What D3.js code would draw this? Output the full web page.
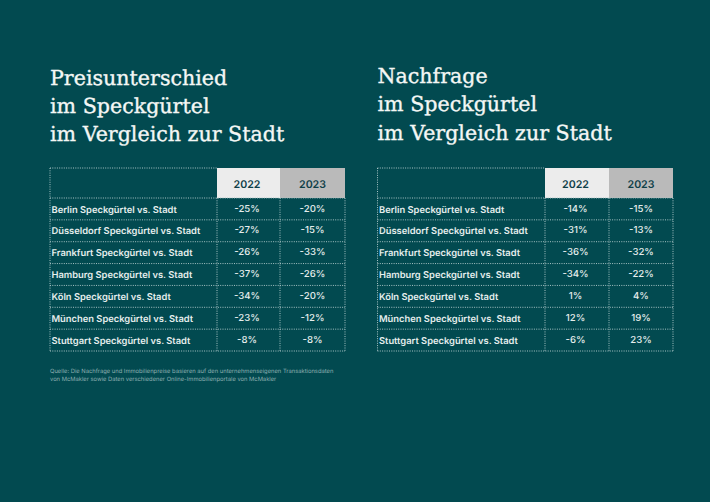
<!DOCTYPE html>
<html lang="de">
<head>
    <meta charset="UTF-8">
    <title>Speckgürtel</title>
    <script src="https://d3js.org/d3.v7.min.js"></script>
    <style>
        html, body { margin: 0; padding: 0; background: #024a50; }
        svg { display: block; text-rendering: geometricPrecision; }
        .title { font-family: "DejaVu Serif", serif; font-size: 20.6px; fill: #f4f7f5; stroke: #f4f7f5; stroke-width: 0.35px; }
        .label { font-family: Inter, sans-serif; font-size: 9.35px; font-weight: 600; fill: #e6eeed; }
        .value { font-family: Inter, sans-serif; font-size: 9.6px; font-weight: 500; fill: #e6eeed; text-anchor: middle; }
        .year { font-family: Inter, sans-serif; font-size: 10.6px; font-weight: 600; fill: #0f4048; text-anchor: middle; }
        .note { font-family: Inter, sans-serif; font-size: 5.8px; fill: #8fb0b2; }
    </style>
</head>
<body>
    <div id="chart"></div>
    <script>
        const cities = ["Berlin", "Düsseldorf", "Frankfurt", "Hamburg", "Köln", "München", "Stuttgart"];
        const years = ["2022", "2023"];
        const price2022 = [-25, -27, -26, -37, -34, -23, -8];
        const price2023 = [-20, -15, -33, -26, -20, -12, -8];
        const demand2022 = [-14, -31, -36, -34, 1, 12, -6];
        const demand2023 = [-15, -13, -32, -22, 4, 19, 23];
        const priceTitle = ["Preisunterschied", "im Speckgürtel", "im Vergleich zur Stadt"];
        const demandTitle = ["Nachfrage", "im Speckgürtel", "im Vergleich zur Stadt"];
        const noteLines = [
            "Quelle: Die Nachfrage und Immobilienpreise basieren auf den unternehmenseigenen Transaktionsdaten",
            "von McMakler sowie Daten verschiedener Online-Immobilienportale von McMakler"
        ];

        const svg = d3.select("#chart")
            .append("svg")
            .attr("width", 710)
            .attr("height", 502);

        const y_rows = d3.scaleBand().domain(cities).range([198, 351]);
        const dots = "#a9c4c5";

        function draw_panel(left, col1, col2, right, titleY, titleLines, v2022, v2023) {
            const g = svg.append("g");
            const x_col = d3.scaleOrdinal().domain(years).range([col1, col2]);
            const col_width = { "2022": col2 - col1, "2023": right - col2 };
            const col_fill = { "2022": "#ececec", "2023": "#bababa" };
            const col_nudge = { "2022": -1.5, "2023": 0 };

            g.selectAll(".title")
                .data(titleLines)
                .enter()
                .append("text")
                .attr("class", "title")
                .attr("x", left)
                .attr("y", (d, i) => titleY + i * 28.3)
                .text(d => d);

            // header cells
            g.selectAll(".head")
                .data(years)
                .enter()
                .append("rect")
                .attr("x", d => x_col(d))
                .attr("y", 168)
                .attr("width", d => col_width[d])
                .attr("height", 30)
                .attr("fill", d => col_fill[d]);

            g.selectAll(".year")
                .data(years)
                .enter()
                .append("text")
                .attr("class", "year")
                .attr("x", d => x_col(d) + col_width[d] / 2 + col_nudge[d])
                .attr("y", 187.5)
                .text(d => d);

            // dotted grid
            const hlines = [168].concat(cities.map(c => y_rows(c)), [351]);
            g.selectAll(".hline")
                .data(hlines)
                .enter()
                .append("line")
                .attr("x1", left)
                .attr("x2", (d, i) => i === 0 ? col1 : right)
                .attr("y1", d => d)
                .attr("y2", d => d)
                .attr("stroke", dots)
                .attr("stroke-width", 1)
                .attr("stroke-dasharray", "1 1.3");

            g.selectAll(".vline")
                .data([left, col1, col2, right])
                .enter()
                .append("line")
                .attr("x1", d => d)
                .attr("x2", d => d)
                .attr("y1", (d, i) => i === 0 ? 168 : 198)
                .attr("y2", 351)
                .attr("stroke", dots)
                .attr("stroke-width", 1)
                .attr("stroke-dasharray", "1 1.3");

            g.selectAll(".label")
                .data(cities)
                .enter()
                .append("text")
                .attr("class", "label")
                .attr("x", left + 1.5)
                .attr("y", d => y_rows(d) + y_rows.bandwidth() / 2 + 3.6)
                .text(d => d + " Speckgürtel vs. Stadt");

            [v2022, v2023].forEach((values, k) => {
                const year = years[k];
                g.selectAll(".value" + year)
                    .data(values)
                    .enter()
                    .append("text")
                    .attr("class", "value")
                    .attr("x", x_col(year) + col_width[year] / 2 + col_nudge[year])
                    .attr("y", (d, i) => y_rows(cities[i]) + y_rows.bandwidth() / 2 + 2.7)
                    .text(d => d + "%");
            });
        }

        draw_panel(50, 217, 280, 345, 84.5, priceTitle, price2022, price2023);
        draw_panel(377.5, 545, 609, 673, 83, demandTitle, demand2022, demand2023);

        svg.selectAll(".note")
            .data(noteLines)
            .enter()
            .append("text")
            .attr("class", "note")
            .attr("x", 50)
            .attr("y", (d, i) => 373 + i * 7.5)
            .text(d => d);
    </script>
</body>
</html>
